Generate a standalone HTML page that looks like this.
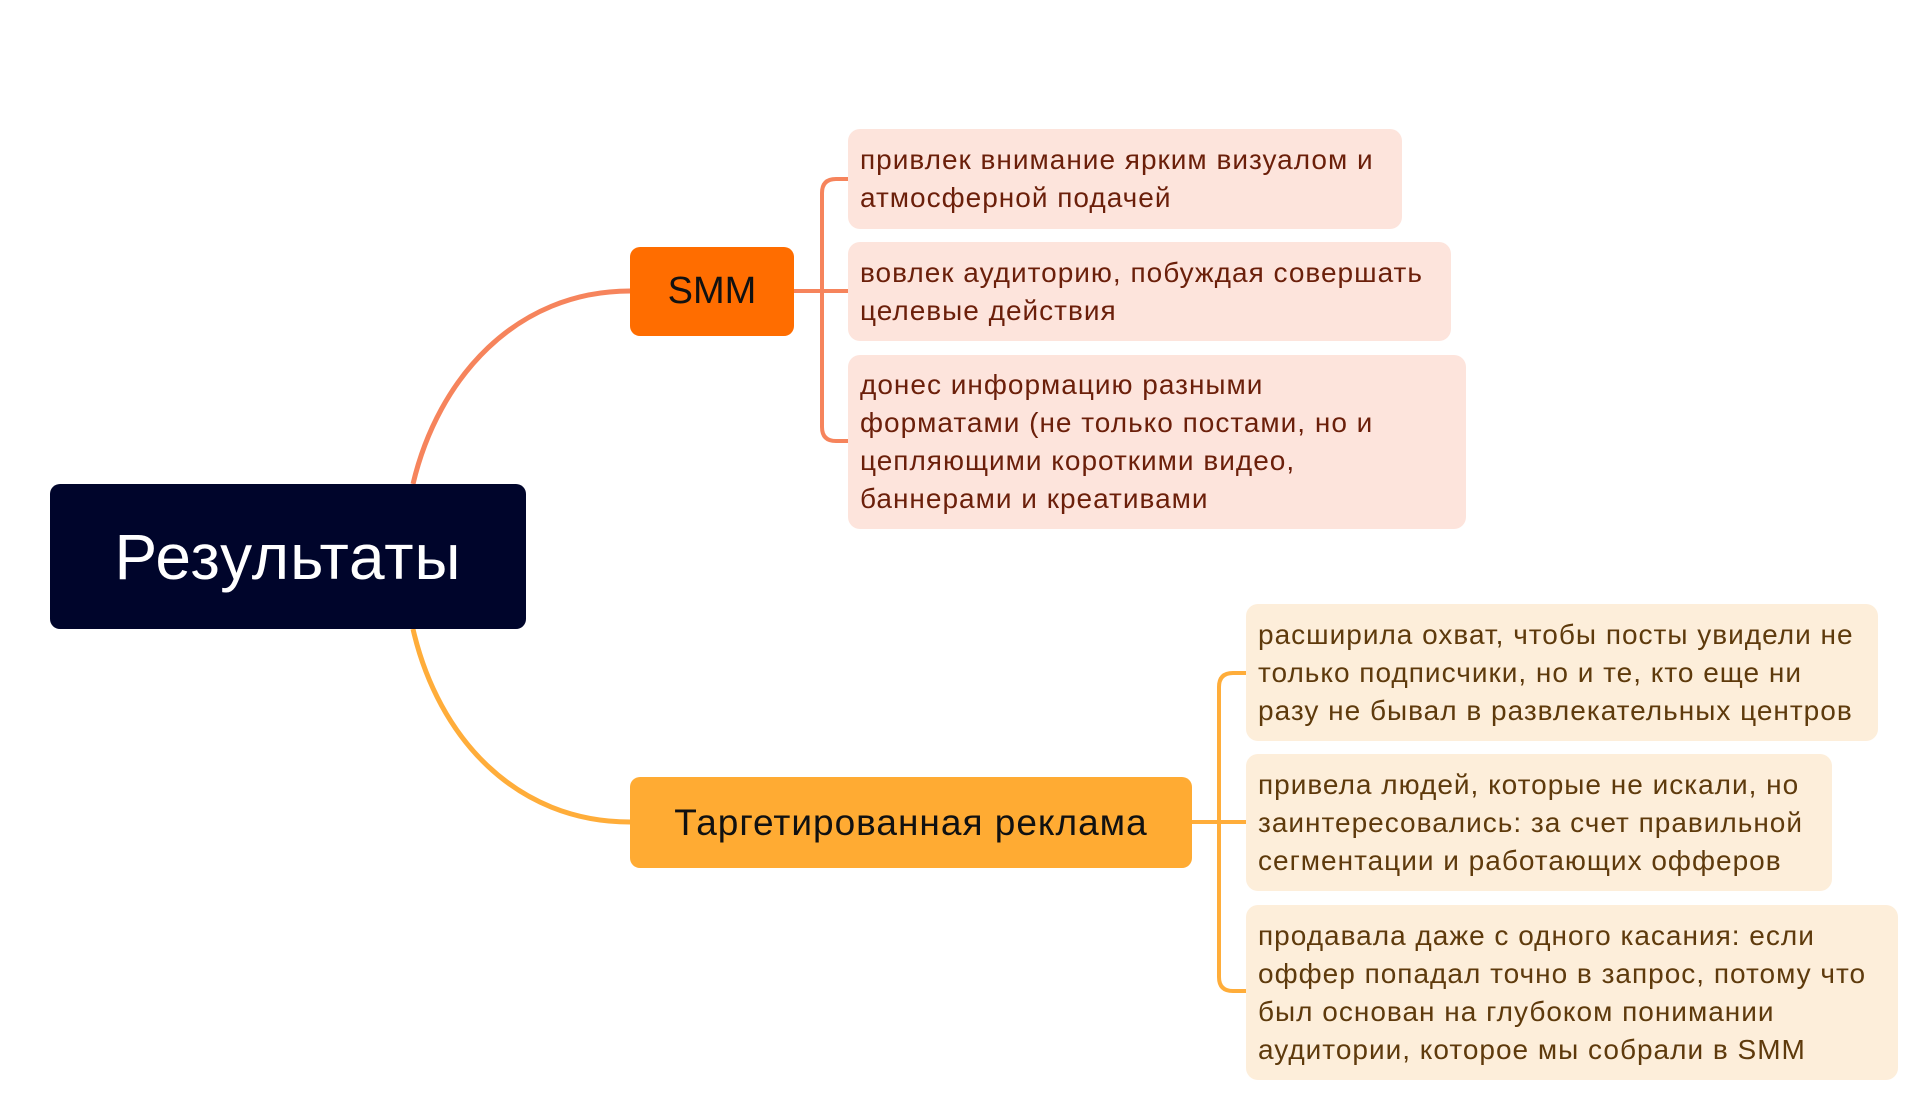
<!DOCTYPE html>
<html><head><meta charset="utf-8"><style>
body{margin:0;width:1920px;height:1110px;background:#fff;position:relative;overflow:hidden;font-family:"Liberation Sans","DejaVu Sans",sans-serif}
.b{position:absolute;box-sizing:border-box;display:flex;align-items:center;white-space:nowrap}
.leaf{border-radius:12px;padding-left:12px;font-size:28px;line-height:38px;letter-spacing:1px}
.p{background:#fde4dc;color:#6b1f0a}
.y{background:#fdeeda;color:#5e3a0c}
</style></head><body>
<svg width="1920" height="1110" style="position:absolute;left:0;top:0">
<path d="M413 484 C438 378 516 291 630 291" fill="none" stroke="#f6845c" stroke-width="5"/>
<path d="M413 629 C438 738 516 822 630 822" fill="none" stroke="#ffad3a" stroke-width="5"/>
<g fill="none" stroke="#f6845c" stroke-width="4">
<path d="M794 291 H848"/>
<path d="M848 179 H836 Q822 179 822 193 V427 Q822 441 836 441 H848"/>
</g>
<g fill="none" stroke="#ffad3a" stroke-width="4">
<path d="M1192 822 H1246"/>
<path d="M1246 673 H1233 Q1219 673 1219 687 V977 Q1219 991 1233 991 H1246"/>
</g>
</svg>
<div class="b" style="left:50px;top:484px;width:476px;height:145px;background:#00052b;border-radius:10px;color:#fff;font-size:64px;letter-spacing:1px;justify-content:center">Результаты</div>
<div class="b" style="left:630px;top:247px;width:164px;height:89px;background:#ff6d00;border-radius:10px;color:#111;font-size:38px;justify-content:center">SMM</div>
<div class="b" style="left:630px;top:777px;width:562px;height:91px;background:#ffab33;border-radius:10px;color:#111;font-size:37px;letter-spacing:1px;justify-content:center">Таргетированная реклама</div>
<div class="b leaf p" style="left:848px;top:129px;width:554px;height:100px">привлек внимание ярким визуалом и<br>атмосферной подачей</div>
<div class="b leaf p" style="left:848px;top:242px;width:603px;height:99px">вовлек аудиторию, побуждая совершать<br>целевые действия</div>
<div class="b leaf p" style="left:848px;top:355px;width:618px;height:174px">донес информацию разными<br>форматами (не только постами, но и<br>цепляющими короткими видео,<br>баннерами и креативами</div>
<div class="b leaf y" style="left:1246px;top:604px;width:632px;height:137px">расширила охват, чтобы посты увидели не<br>только подписчики, но и те, кто еще ни<br>разу не бывал в развлекательных центров</div>
<div class="b leaf y" style="left:1246px;top:754px;width:586px;height:137px">привела людей, которые не искали, но<br>заинтересовались: за счет правильной<br>сегментации и работающих офферов</div>
<div class="b leaf y" style="left:1246px;top:905px;width:652px;height:175px">продавала даже с одного касания: если<br>оффер попадал точно в запрос, потому что<br>был основан на глубоком понимании<br>аудитории, которое мы собрали в SMM</div>
</body></html>
